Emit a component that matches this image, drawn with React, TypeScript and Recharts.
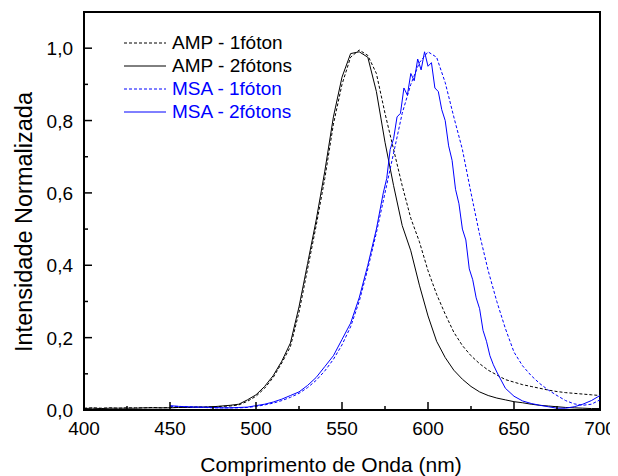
import { LineChart, Line, XAxis, YAxis, ReferenceArea } from 'recharts'

const font = '"Liberation Sans", Arial, sans-serif'

// AMP spectra, 400–700 nm every 5 nm
const ampNm = [
  400, 405, 410, 415, 420, 425, 430, 435, 440, 445, 450, 455, 460, 465, 470, 475, 480, 485,
  490, 495, 500, 505, 510, 515, 520, 525, 530, 535, 540, 545, 550, 555, 560, 565, 570, 575,
  580, 585, 590, 595, 600, 605, 610, 615, 620, 625, 630, 635, 640, 645, 650, 655, 660, 665,
  670, 675, 680, 685, 690, 695, 700,
]
const amp1Foton = [
  0.005, 0.006, 0.005, 0.006, 0.005, 0.006, 0.006, 0.006, 0.007, 0.006, 0.007, 0.007, 0.007, 0.008, 0.008, 0.009, 0.01, 0.011,
  0.014, 0.024, 0.038, 0.06, 0.09, 0.13, 0.175, 0.27, 0.39, 0.51, 0.64, 0.79, 0.9, 0.975, 0.995, 0.98, 0.93, 0.82,
  0.72, 0.62, 0.53, 0.465, 0.385, 0.32, 0.265, 0.215, 0.178, 0.15, 0.128, 0.11, 0.097, 0.084, 0.077, 0.07, 0.065, 0.06,
  0.055, 0.051, 0.048, 0.046, 0.044, 0.042, 0.04,
]
const amp2Fotons = [
  0.004, 0.005, 0.004, 0.005, 0.005, 0.005, 0.005, 0.006, 0.006, 0.006, 0.006, 0.007, 0.007, 0.008, 0.008, 0.009, 0.011, 0.013,
  0.016, 0.028, 0.042, 0.065, 0.095, 0.135, 0.185, 0.285, 0.405, 0.525, 0.66, 0.81, 0.92, 0.985, 0.99, 0.975, 0.88, 0.74,
  0.62, 0.51, 0.44, 0.345, 0.26, 0.19, 0.145, 0.11, 0.085, 0.065, 0.05, 0.04, 0.033, 0.028, 0.023, 0.02, 0.016, 0.013,
  0.011, 0.009, 0.007, 0.006, 0.005, 0.004, 0.004,
]

// MSA 1 foton, 450–700 nm every 5 nm
const msa1Nm = [
  450, 455, 460, 465, 470, 475, 480, 485, 490, 495, 500, 505, 510, 515, 520, 525, 530, 535, 540, 545,
  550, 555, 560, 565, 570, 575, 580, 585, 590, 595, 600, 605, 610, 615, 620, 625, 630, 635, 640, 645,
  650, 655, 660, 665, 670, 675, 680, 685, 690, 695, 700,
]
const msa1Foton = [
  0.01, 0.01, 0.009, 0.008, 0.007, 0.006, 0.006, 0.006, 0.006, 0.007, 0.01, 0.014, 0.019, 0.026, 0.035, 0.046, 0.062, 0.082, 0.108, 0.14,
  0.18, 0.23, 0.3, 0.39, 0.49, 0.6, 0.71, 0.82, 0.9, 0.96, 0.99, 0.975, 0.905, 0.81, 0.72, 0.6, 0.485, 0.385, 0.3, 0.225,
  0.16, 0.122, 0.095, 0.073, 0.055, 0.04, 0.026, 0.017, 0.013, 0.016, 0.028,
]

// MSA 2 fotons (noisy), finer sampling around the peak
const msa2Nm = [
  450, 455, 460, 465, 470, 475, 480, 485, 490, 495, 500, 505, 510, 515, 520, 525, 530, 535, 540, 545, 550, 555, 560, 565, 570,
  572, 574, 576, 578, 580, 582, 584, 586, 588, 590, 592, 594, 596, 598, 600, 602, 604, 606, 608, 610,
  612, 614, 616, 618, 620, 622, 624, 626, 628, 630, 632, 634, 636, 638, 640,
  645, 650, 655, 660, 665, 670, 675, 680, 685, 690, 695, 700,
]
const msa2Fotons = [
  0.012, 0.01, 0.009, 0.008, 0.008, 0.007, 0.006, 0.006, 0.007, 0.008, 0.012, 0.016, 0.022, 0.03, 0.04, 0.05, 0.068, 0.09, 0.12, 0.15, 0.195, 0.24, 0.31, 0.4, 0.5,
  0.55, 0.6, 0.64, 0.72, 0.75, 0.81, 0.82, 0.89, 0.87, 0.93, 0.91, 0.97, 0.94, 0.99, 0.95, 0.96, 0.89, 0.88, 0.83, 0.8,
  0.73, 0.69, 0.61, 0.57, 0.5, 0.47, 0.39, 0.36, 0.31, 0.28, 0.22, 0.19, 0.15, 0.125, 0.105,
  0.06, 0.038, 0.025, 0.018, 0.013, 0.009, 0.005, 0.005, 0.009, 0.016, 0.026, 0.04,
]

const xTicks = [400, 425, 450, 475, 500, 525, 550, 575, 600, 625, 650, 675, 700]
const yTicks = [0, 0.1, 0.2, 0.3, 0.4, 0.5, 0.6, 0.7, 0.8, 0.9, 1.0]

const toPoints = (xs: number[], ys: number[]) => xs.map((x, i) => ({ x, y: ys[i] }))

const series = [
  { name: 'AMP - 1fóton', data: toPoints(ampNm, amp1Foton), color: '#000000', dash: '3 2' },
  { name: 'AMP - 2fótons', data: toPoints(ampNm, amp2Fotons), color: '#000000', dash: undefined },
  { name: 'MSA - 1fóton', data: toPoints(msa1Nm, msa1Foton), color: '#0000ff', dash: '3 2' },
  { name: 'MSA - 2fótons', data: toPoints(msa2Nm, msa2Fotons), color: '#0000ff', dash: undefined },
]

const XTick = ({ x, y, payload }: any) => {
  const major = payload.value % 50 === 0
  return (
    <g>
      <line x1={x} x2={x} y1={y} y2={y - (major ? 8 : 4)} stroke="#000" strokeWidth={1.5} />
      {major && (
        <text x={x} y={y + 25} textAnchor="middle" fontSize={19} fontFamily={font} fill="#000">
          {payload.value}
        </text>
      )}
    </g>
  )
}

const YTick = ({ x, y, payload }: any) => {
  const v = Math.round(payload.value * 10)
  const major = v % 2 === 0
  return (
    <g>
      <line x1={x} x2={x + (major ? 8 : 4)} y1={y} y2={y} stroke="#000" strokeWidth={1.5} />
      {major && (
        <text x={x - 11} y={y + 7} textAnchor="end" fontSize={19} fontFamily={font} fill="#000">
          {(v / 10).toFixed(1).replace('.', ',')}
        </text>
      )}
    </g>
  )
}

const YTitle = ({ viewBox }: any) => {
  const cx = (viewBox?.x ?? 0) + 16
  const cy = (viewBox?.y ?? 0) + (viewBox?.height ?? 398) / 2 + 11
  return (
    <text
      x={cx}
      y={cy}
      transform={`rotate(-90 ${cx} ${cy})`}
      textAnchor="middle"
      dominantBaseline="central"
      fontSize={23.5}
      fontFamily={font}
      fill="#000"
    >
      Intensidade Normalizada
    </text>
  )
}

export default function App() {
  return (
    <div style={{ position: 'relative', width: 610, height: 468, background: '#fff' }}>
      <LineChart width={610} height={468} margin={{ top: 4, right: 18, left: 0, bottom: 0 }}>
        <XAxis
          type="number"
          dataKey="x"
          domain={[400, 700]}
          ticks={xTicks}
          tick={<XTick />}
          tickSize={0}
          tickMargin={0}
          tickLine={false}
          axisLine={false}
          height={66}
          allowDataOverflow
          label={{
            value: 'Comprimento de Onda (nm)',
            position: 'insideBottom',
            offset: 4,
            dx: -11,
            style: { fontSize: 21, fontFamily: font, fill: '#000' },
          }}
        />
        <YAxis
          type="number"
          dataKey="y"
          domain={[0, 1.1]}
          ticks={yTicks}
          tick={<YTick />}
          tickSize={0}
          tickMargin={0}
          tickLine={false}
          axisLine={false}
          width={76}
          allowDataOverflow
          label={<YTitle />}
        />
        {series.map((s) => (
          <Line
            key={s.name}
            data={s.data}
            dataKey="y"
            name={s.name}
            type="linear"
            stroke={s.color}
            strokeWidth={1}
            strokeDasharray={s.dash}
            dot={false}
            activeDot={false}
            isAnimationActive={false}
          />
        ))}
        <ReferenceArea
          x1={400}
          x2={700}
          y1={0}
          y2={1.1}
          fill="none"
          stroke="#000"
          strokeWidth={2}
          ifOverflow="visible"
        />
      </LineChart>
      <div style={{ position: 'absolute', left: 116, top: 23, fontFamily: font, fontSize: 19 }}>
        {series.map((s) => (
          <div key={s.name} style={{ display: 'flex', alignItems: 'center', height: 23, color: s.color }}>
            <svg width={42} height={4} style={{ marginRight: 6 }}>
              <line x1={0} x2={42} y1={2} y2={2} stroke={s.color} strokeWidth={1} strokeDasharray={s.dash} />
            </svg>
            <span>{s.name}</span>
          </div>
        ))}
      </div>
    </div>
  )
}
